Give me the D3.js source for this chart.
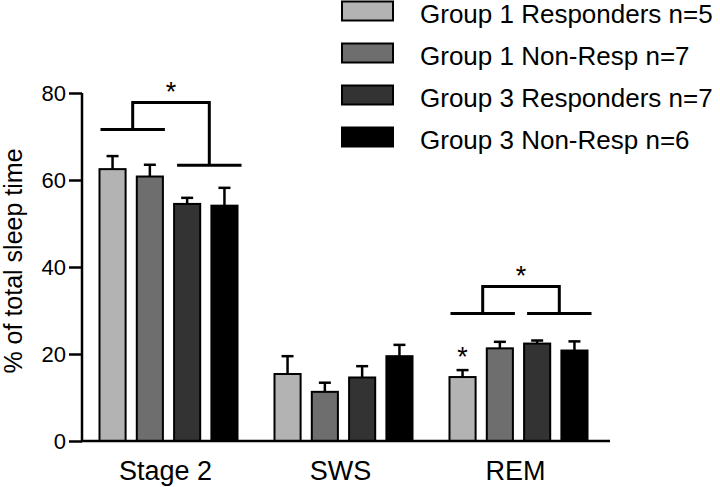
<!DOCTYPE html>
<html><head><meta charset="utf-8">
<script src="https://cdn.jsdelivr.net/npm/d3@7"></script>
<style>body{margin:0;background:#fff}svg{display:block;font-family:"Liberation Sans",Arial,sans-serif}</style>
</head><body>
<svg id="c" width="720" height="487"></svg>
<script>
const categories = ["Stage 2", "SWS", "REM"];
const seriesNames = ["Group 1 Responders n=5", "Group 1 Non-Resp n=7", "Group 3 Responders n=7", "Group 3 Non-Resp n=6"];
const seriesColors = ["#b3b3b3", "#6e6e6e", "#333333", "#000000"];
const g1Resp = [62.5, 15.4, 14.7];
const g1Non = [60.8, 11.3, 21.3];
const g3Resp = [54.5, 14.6, 22.4];
const g3Non = [54.1, 19.5, 20.8];
const g1RespErr = [3.0, 4.1, 1.6];
const g1NonErr = [2.7, 2.1, 1.5];
const g3RespErr = [1.4, 2.6, 0.7];
const g3NonErr = [4.1, 2.6, 2.1];
const yTicks = [0, 20, 40, 60, 80];
// significance brackets (line levels in data units)
const brackets = [
  {cat: "Stage 2", leftY: 71.6, rightY: 63.4, topY: 77.8},
  {cat: "REM", leftY: 29.3, rightY: 29.3, topY: 35.5}
];
const singleStars = [{cat: "REM", series: 0, y: 20.7}];

const values = [g1Resp, g1Non, g3Resp, g3Non];
const errs = [g1RespErr, g1NonErr, g3RespErr, g3NonErr];
const FONT = "Liberation Sans, Arial, sans-serif";

const svg = d3.select("#c");
const y = d3.scaleLinear().domain([0, 80]).range([441, 93]);
const x = d3.scaleBand().domain(categories).range([81, 606]).padding(0);
const xi = d3.scaleBand().domain(d3.range(4)).range([-74.6, 74.6]).paddingInner(0.3).paddingOuter(0.15);
const bw = xi.bandwidth();
const barLeft = (c, s) => x(c) + x.bandwidth() / 2 + xi(s);

// y axis
const yAxis = svg.append("g").attr("transform", "translate(82,0)")
  .call(d3.axisLeft(y).tickValues(yTicks).tickSize(13).tickPadding(3).tickFormat(d3.format("d")));
yAxis.attr("font-size", null).attr("font-family", null);
yAxis.select(".domain").attr("d", `M0,${y(0)}V${y(80)}`).attr("stroke", "#000").attr("stroke-width", 2.5);
yAxis.selectAll(".tick line").attr("stroke", "#000").attr("stroke-width", 2.5);
yAxis.selectAll(".tick text").style("font-size", "22px").style("font-family", FONT).attr("fill", "#000");

// y title
svg.append("text").attr("transform", `translate(22,${261}) rotate(-90)`)
  .attr("text-anchor", "middle").style("font-size", "25px").text("% of total sleep time");

// bars
categories.forEach((c, ci) => {
  values.forEach((vals, s) => {
    const v = vals[ci], e = errs[s][ci];
    const x0 = barLeft(c, s);
    const cx = x0 + bw / 2;
    svg.append("line").attr("x1", cx).attr("x2", cx).attr("y1", y(v)).attr("y2", y(v + e))
      .attr("stroke", "#000").attr("stroke-width", 2.5);
    svg.append("line").attr("x1", cx - 6).attr("x2", cx + 6).attr("y1", y(v + e)).attr("y2", y(v + e))
      .attr("stroke", "#000").attr("stroke-width", 2.5);
    svg.append("rect").attr("x", x0).attr("y", y(v)).attr("width", bw).attr("height", y(0) - y(v))
      .attr("fill", seriesColors[s]).attr("stroke", "#000").attr("stroke-width", 2);
  });
});

// x axis
svg.append("line").attr("x1", 81).attr("x2", 610).attr("y1", y(0)).attr("y2", y(0))
  .attr("stroke", "#000").attr("stroke-width", 2.5);
categories.forEach(c => {
  svg.append("text").attr("x", x(c) + x.bandwidth() / 2 - 3).attr("y", 480)
    .attr("text-anchor", "middle").style("font-size", "27px").text(c);
});

// brackets
brackets.forEach(b => {
  const l0 = barLeft(b.cat, 0) + 1, l1 = barLeft(b.cat, 1) + bw + 2;
  const r0 = barLeft(b.cat, 2) + 3, r1 = barLeft(b.cat, 3) + bw + 4;
  const lm = (l0 + l1) / 2, rm = (r0 + r1) / 2;
  svg.append("path").attr("d", `M${l0},${y(b.leftY)}H${l1}`).attr("stroke", "#000").attr("stroke-width", 3);
  svg.append("path").attr("d", `M${r0},${y(b.rightY)}H${r1}`).attr("stroke", "#000").attr("stroke-width", 3);
  svg.append("path").attr("d", `M${lm},${y(b.leftY)}V${y(b.topY)}H${rm}V${y(b.rightY)}`)
    .attr("stroke", "#000").attr("stroke-width", 3).attr("fill", "none");
  svg.append("text").attr("x", (lm + rm) / 2).attr("y", y(b.topY) - 1.5)
    .attr("text-anchor", "middle").style("font-size", "27px").text("*");
});
singleStars.forEach(s => {
  svg.append("text").attr("x", barLeft(s.cat, s.series) + bw / 2).attr("y", y(s.y) + 15)
    .attr("text-anchor", "middle").style("font-size", "27px").text("*");
});

// legend
seriesNames.forEach((n, i) => {
  const top = 1.5 + i * 42;
  svg.append("rect").attr("x", 342).attr("y", top).attr("width", 51).attr("height", 19)
    .attr("fill", seriesColors[i]).attr("stroke", "#000").attr("stroke-width", 2);
  svg.append("text").attr("x", 420).attr("y", top + 21).style("font-size", "26px").text(n);
});
</script>
</body></html>
